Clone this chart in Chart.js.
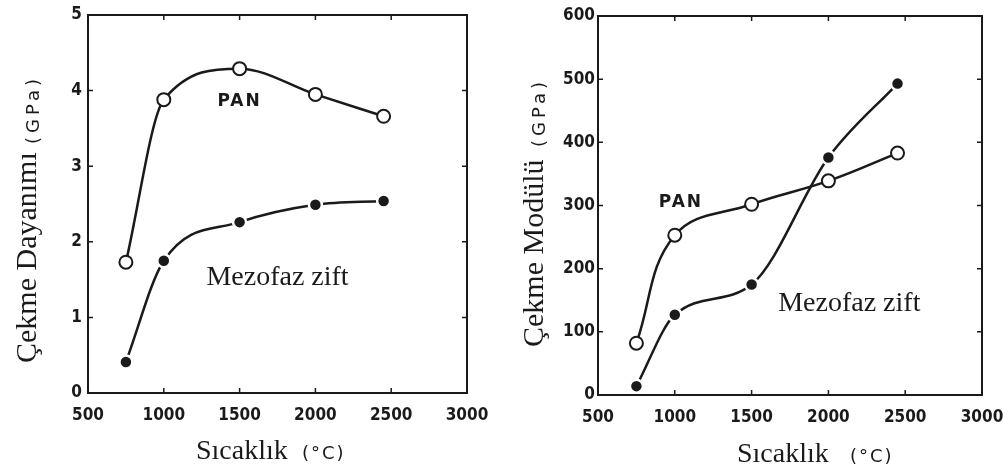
<!DOCTYPE html>
<html>
<head>
<meta charset="utf-8">
<script src="https://cdn.jsdelivr.net/npm/chart.js@4.4.1/dist/chart.umd.min.js"></script>
<style>
html,body{margin:0;padding:0;background:#fff;}
#wrap{position:relative;width:1003px;height:468px;overflow:hidden;}
canvas{position:absolute;top:0;}
#c1{left:0;}
#c2{left:500px;}
</style>
</head>
<body>
<div id="wrap">
<canvas id="c1" width="500" height="468"></canvas>
<canvas id="c2" width="503" height="468"></canvas>
</div>
<script>
// ---- data ----
const temps = [750, 1000, 1500, 2000, 2450];
const panStrength = [1.73, 3.88, 4.29, 3.95, 3.66];
const pitchStrength = [0.41, 1.75, 2.26, 2.49, 2.54];
const panModulus = [82, 253, 302, 339, 383];
const pitchModulus = [14, 127, 175, 376, 493];
const xTickValues = [500, 1000, 1500, 2000, 2500, 3000];
const strengthTicks = [0, 1, 2, 3, 4, 5];
const modulusTicks = [0, 100, 200, 300, 400, 500, 600];
const seriesNames = ['PAN', 'Mezofaz zift'];
const xTitle = ['Sıcaklık', '(°C)'];
const yTitleLeft = ['Çekme Dayanımı', '(GPa)'];
const yTitleRight = ['Çekme Modülü', '(GPa)'];

const INK = '#1a1a1a';
const SERIF = '"Liberation Serif", "DejaVu Serif", serif';
const SANS = '"DejaVu Sans", sans-serif';
const TICKFONT = { family: '"DejaVu Sans Condensed", "DejaVu Sans", sans-serif', size: 17, weight: 'bold' };

function pts(xs, ys) { return xs.map((v, i) => ({ x: v, y: ys[i] })); }

function txt(ctx, s, x, y, font, opt) {
  opt = opt || {};
  ctx.save();
  ctx.font = font;
  ctx.fillStyle = INK;
  if ('letterSpacing' in ctx) ctx.letterSpacing = (opt.spacing || 0) + 'px';
  ctx.textAlign = opt.align || 'left';
  ctx.textBaseline = opt.baseline || 'alphabetic';
  ctx.translate(x, y);
  if (opt.rotate) ctx.rotate(-Math.PI / 2);
  ctx.fillText(s, 0, 0);
  ctx.restore();
}

const decor = {
  id: 'decor',
  afterDraw(chart, args, o) {
    const { ctx, chartArea: a } = chart;
    const xs = chart.scales.x, ys = chart.scales.y;
    ctx.save();
    ctx.strokeStyle = INK;
    ctx.lineWidth = 2;
    ctx.strokeRect(a.left, a.top, a.right - a.left, a.bottom - a.top);
    ctx.lineWidth = 1.5;
    const L = 5;
    ctx.beginPath();
    xs.ticks.forEach((t, i) => {
      const p = xs.getPixelForTick(i);
      ctx.moveTo(p, a.bottom); ctx.lineTo(p, a.bottom - L);
      ctx.moveTo(p, a.top); ctx.lineTo(p, a.top + L);
    });
    ys.ticks.forEach((t, i) => {
      const p = ys.getPixelForTick(i);
      ctx.moveTo(a.left, p); ctx.lineTo(a.left + L, p);
      ctx.moveTo(a.right, p); ctx.lineTo(a.right - L, p);
    });
    ctx.stroke();
    ctx.restore();
    // axis titles
    txt(ctx, xTitle[0], o.xt.x, o.xt.y, '28px ' + SERIF);
    txt(ctx, xTitle[1], o.xt.x2, o.xt.y, '18px ' + SANS, { spacing: 2 });
    txt(ctx, o.yTitle[0], o.yt.x, o.yt.y, '30px ' + SERIF, { rotate: true });
    txt(ctx, o.yTitle[1], o.yt.x2, o.yt.y2, '18px ' + SANS, { rotate: true, spacing: 4 });
    // series labels at data coordinates
    txt(ctx, seriesNames[0], xs.getPixelForValue(o.panAt[0]), ys.getPixelForValue(o.panAt[1]),
        'bold 17px ' + SANS, { align: 'center', baseline: 'middle', spacing: 2 });
    txt(ctx, seriesNames[1], xs.getPixelForValue(o.pitchAt[0]), ys.getPixelForValue(o.pitchAt[1]),
        '28px ' + SERIF, { align: 'center', baseline: 'middle' });
  }
};

function noPad(s) { s.paddingLeft = 0; s.paddingRight = 0; s.paddingTop = 0; s.paddingBottom = 0; }

function makeChart(id, pan, pitch, yTicks, yMax, box, yPad, dec, panCurve) {
  return new Chart(document.getElementById(id), {
    type: 'scatter',
    data: {
      datasets: [
        Object.assign({
          label: seriesNames[0], data: pts(temps, pan), showLine: true,
          borderColor: INK, borderWidth: 2.5,
          pointRadius: 6.5, pointBorderWidth: 2, pointBackgroundColor: '#fff', pointBorderColor: INK
        }, panCurve),
        {
          label: seriesNames[1], data: pts(temps, pitch), showLine: true,
          borderColor: INK, borderWidth: 2.5, cubicInterpolationMode: 'monotone',
          pointRadius: 6.5, pointBorderWidth: 2.5, pointBackgroundColor: INK, pointBorderColor: '#fff'
        }
      ]
    },
    options: {
      responsive: false, animation: false, devicePixelRatio: 1,
      layout: { padding: { top: box.top, right: box.right, left: 0, bottom: 0 } },
      plugins: { legend: { display: false }, tooltip: { enabled: false }, decor: dec },
      scales: {
        x: {
          type: 'linear', min: xTickValues[0], max: xTickValues[xTickValues.length - 1],
          afterBuildTicks: s => { s.ticks = xTickValues.map(v => ({ value: v })); },
          afterFit: s => { s.height = box.xh; noPad(s); },
          grid: { display: false, drawTicks: false }, border: { display: false },
          ticks: { color: INK, font: TICKFONT, padding: 12, maxRotation: 0, callback: v => String(v) }
        },
        y: {
          type: 'linear', min: 0, max: yMax,
          afterBuildTicks: s => { s.ticks = yTicks.map(v => ({ value: v })); },
          afterFit: s => { s.width = box.yw; noPad(s); },
          grid: { display: false, drawTicks: false }, border: { display: false },
          ticks: { color: INK, font: TICKFONT, padding: yPad, callback: v => String(v) }
        }
      }
    },
    plugins: [decor]
  });
}

makeChart('c1', panStrength, pitchStrength, strengthTicks, 5,
  { top: 15, right: 33, xh: 75, yw: 88 }, 6,
  { xt: { x: 196, x2: 302, y: 459 }, yTitle: yTitleLeft,
    yt: { x: 36, y: 363, x2: 39, y2: 144 }, panAt: [1500, 3.85], pitchAt: [1750, 1.52] },
  { cubicInterpolationMode: 'monotone' });

makeChart('c2', panModulus, pitchModulus, modulusTicks, 600,
  { top: 16, right: 21, xh: 73, yw: 98 }, 3,
  { xt: { x: 237, x2: 350, y: 462 }, yTitle: yTitleRight,
    yt: { x: 43, y: 347, x2: 45, y2: 147 }, panAt: [1040, 305], pitchAt: [2136, 144] },
  { tension: 0.4 });
</script>
</body>
</html>
